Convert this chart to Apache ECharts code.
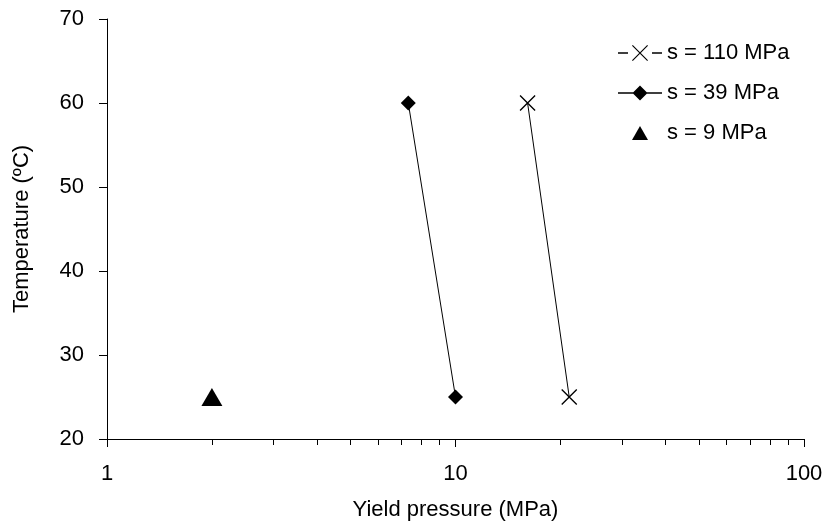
<!DOCTYPE html>
<html>
<head>
<meta charset="utf-8">
<script src="https://cdn.jsdelivr.net/npm/echarts@6/dist/echarts.min.js"></script>
<style>
html,body{margin:0;padding:0;background:#fff;}
#chart{width:827px;height:532px;}
</style>
</head>
<body>
<div id="chart"></div>
<script>
// Data
var seriesNames = ['s = 110 MPa', 's = 39 MPa', 's = 9 MPa'];
var s110 = [[16.1, 60], [21.2, 25]];
var s39 = [[7.32, 60], [10.0, 25]];
var s9 = [[2.0, 25]];
var xMajorTicks = [1, 10, 100];
var xMinorTicks = [2, 3, 4, 5, 6, 7, 8, 9, 20, 30, 40, 50, 60, 70, 80, 90];
var yTicks = [20, 30, 40, 50, 60, 70];

var FONT = "'Liberation Sans', Arial, sans-serif";
var FS = 22;
var crossPath = 'path://M0,6 L6,0 L100,94 L94,100 Z M94,0 L100,6 L6,100 L0,94 Z';
// legend icons drawn in a 44x18 box
var legendCross = 'path://M0,0 M44,18 ' +
  'M0,8.3 L10,8.3 L10,9.7 L0,9.7 Z M34,8.3 L44,8.3 L44,9.7 L34,9.7 Z ' +
  'M14,1.8 L14.8,1 L30,16.2 L29.2,17 Z M29.2,1 L30,1.8 L14.8,17 L14,16.2 Z';
var legendDiamond = 'path://M0,0 M44,18 ' +
  'M0,8.3 L44,8.3 L44,9.7 L0,9.7 Z M22,1.5 L29.5,9 L22,16.5 L14.5,9 Z';
var legendTriangle = 'path://M0,0 M44,18 M14,16 L22,2 L30,16 Z';

var chart = echarts.init(document.getElementById('chart'), null, {renderer: 'canvas'});
chart.setOption({
  animation: false,
  backgroundColor: '#fff',
  textStyle: {fontFamily: FONT},
  grid: {left: 107, right: 23, top: 19, bottom: 93, containLabel: false},
  legend: {
    orient: 'vertical',
    left: 618,
    top: 42,
    padding: 0,
    itemWidth: 44,
    itemHeight: 18,
    itemGap: 18,
    textStyle: {fontFamily: FONT, fontSize: FS, color: '#000'},
    data: [
      {name: seriesNames[0], icon: legendCross, itemStyle: {color: '#000', opacity: 1}},
      {name: seriesNames[1], icon: legendDiamond, itemStyle: {color: '#000', opacity: 1}},
      {name: seriesNames[2], icon: legendTriangle, itemStyle: {color: '#000', opacity: 1}}
    ]
  },
  xAxis: [{
    type: 'log',
    logBase: 10,
    min: 1,
    max: 100,
    name: 'Yield pressure (MPa)',
    nameLocation: 'middle',
    nameGap: 60,
    nameTextStyle: {fontFamily: FONT, fontSize: FS, color: '#000'},
    axisLine: {onZero: false, lineStyle: {color: '#000', width: 1}},
    axisTick: {show: true, inside: false, length: 8, lineStyle: {color: '#000'}, customValues: xMajorTicks},
    axisLabel: {fontFamily: FONT, fontSize: FS, color: '#000', margin: 24, customValues: xMajorTicks},
    splitLine: {show: false},
    minorTick: {show: false}
  }, {
    type: 'log',
    logBase: 10,
    min: 1,
    max: 100,
    position: 'bottom',
    gridIndex: 0,
    axisLine: {show: false},
    axisTick: {show: true, inside: false, length: 6, lineStyle: {color: '#000'}, customValues: xMinorTicks},
    axisLabel: {show: false},
    splitLine: {show: false}
  }],
  yAxis: {
    type: 'value',
    min: 20,
    max: 70,
    interval: 10,
    name: 'Temperature (ºC)',
    nameLocation: 'middle',
    nameGap: 74,
    nameTextStyle: {fontFamily: FONT, fontSize: FS, color: '#000'},
    axisLine: {show: true, onZero: false, lineStyle: {color: '#000', width: 1}},
    axisTick: {show: true, inside: false, length: 8, lineStyle: {color: '#000'}, customValues: yTicks},
    axisLabel: {fontFamily: FONT, fontSize: FS, color: '#000', margin: 23, customValues: yTicks},
    splitLine: {show: false}
  },
  series: [
    {
      name: seriesNames[0],
      type: 'line',
      data: s110,
      symbol: crossPath,
      symbolSize: 16,
      lineStyle: {color: '#000', width: 1},
      itemStyle: {color: '#000'},
      z: 3
    },
    {
      name: seriesNames[1],
      type: 'line',
      data: s39,
      symbol: 'diamond',
      symbolSize: 15,
      lineStyle: {color: '#000', width: 1},
      itemStyle: {color: '#000'},
      z: 3
    },
    {
      name: seriesNames[2],
      type: 'scatter',
      data: s9,
      symbol: 'triangle',
      symbolSize: [21, 18],
      itemStyle: {color: '#000', opacity: 1},
      z: 3
    }
  ]
});
</script>
</body>
</html>
